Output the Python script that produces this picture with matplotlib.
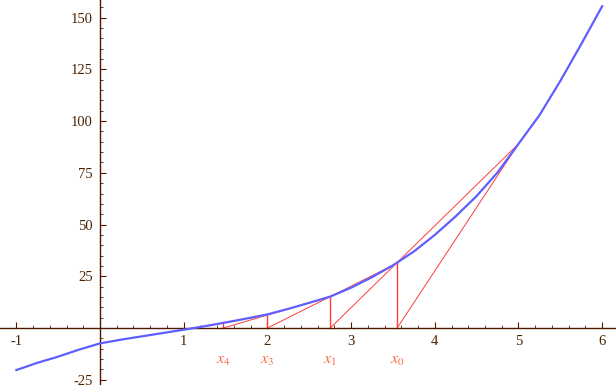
import numpy as np
import matplotlib.pyplot as plt
from matplotlib.ticker import MultipleLocator, FixedLocator

# кривая функции
curve_x = [-1, -0.75, -0.5, -0.25, 0, 0.25, 0.5, 0.75, 1, 1.25, 1.5, 1.75, 2,
           2.25, 2.5, 2.75, 3, 3.25, 3.5, 3.75, 4, 4.25, 4.5, 4.75, 5,
           5.25, 5.5, 5.75, 6]
curve_y = [-20.3, -16.8, -13.8, -10.4, -7.4, -5.6, -4.0, -2.4, -0.8, 0.9, 2.7, 4.6, 6.6,
           9.3, 12.2, 15.2, 19.5, 24.6, 30.3, 37.0, 45.0, 54.0, 63.8, 75.2, 89.0,
           102.8, 119.4, 137.2, 155.5]

# итерации метода секущих
iter_x = [3.55, 2.75, 2.0, 1.47]
iter_f = [31.4, 15.2, 6.6, 2.7]
iter_labels = ['$x_0$', '$x_1$', '$x_3$', '$x_4$']

# секущие: от точки на оси до точки на кривой
sec_from_x = [3.55, 2.75, 2.0, 1.47, 1.15]
sec_to_x = [5.0, 5.0, 3.55, 2.75, 2.0]
sec_to_y = [89.0, 89.0, 31.4, 15.2, 6.6]

xticks = [-1, 1, 2, 3, 4, 5, 6]
yticks = [-25, 25, 50, 75, 100, 125, 150]

axis_col = '#4d1a00'
text_col = '#4a2400'
red = '#ff3c3c'
blue = '#5f5fff'

plt.rcParams['font.family'] = ['Liberation Serif', 'DejaVu Serif']
plt.rcParams['mathtext.fontset'] = 'stix'

fig = plt.figure(figsize=(6.16, 3.85), dpi=100)
ax = fig.add_axes([0, 0, 1, 1])
ax.set_xlim(-1.195, 6.165)
ax.set_ylim(-27.5, 158.5)

for a, b, c in zip(sec_from_x, sec_to_x, sec_to_y):
    ax.plot([a, b], [0, c], color=red, lw=0.7, zorder=2)
for x, f in zip(iter_x, iter_f):
    ax.plot([x, x], [0, f], color=red, lw=1.0, zorder=2)

ax.plot(curve_x, curve_y, color=blue, lw=1.6, zorder=3, solid_joinstyle='round')

for x, lab in zip(iter_x, iter_labels):
    ax.text(x, -15.5, lab, color='#ff6a40', fontsize=11.5, ha='center', va='center')

ax.spines['left'].set_position(('data', 0))
ax.spines['bottom'].set_position(('data', 0))
ax.spines['top'].set_visible(False)
ax.spines['right'].set_visible(False)
for s in ['left', 'bottom']:
    ax.spines[s].set_color(axis_col)
    ax.spines[s].set_linewidth(1.0)

ax.xaxis.set_major_locator(FixedLocator(xticks))
ax.yaxis.set_major_locator(FixedLocator(yticks))
ax.xaxis.set_minor_locator(MultipleLocator(0.2))
ax.yaxis.set_minor_locator(MultipleLocator(5))
ax.tick_params(which='both', direction='in', color=axis_col, labelcolor=text_col, labelsize=10.5)
ax.tick_params(which='major', length=4, width=0.8)
ax.tick_params(which='minor', length=2.5, width=0.6)
ax.tick_params(axis='x', pad=5)
ax.tick_params(axis='y', pad=5)
ax.set_xticklabels([str(t) for t in xticks])
ax.set_yticklabels([str(t) for t in yticks])

fig.savefig('out.png', dpi=100)
